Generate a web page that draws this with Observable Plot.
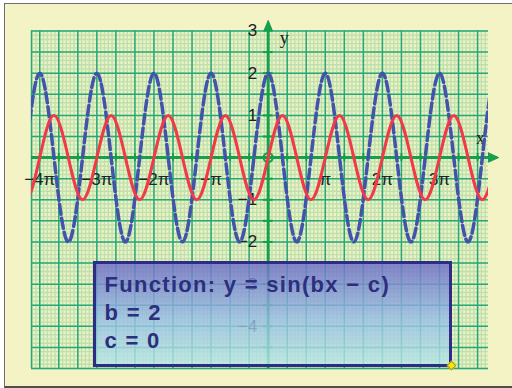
<!DOCTYPE html>
<html>
<head>
<meta charset="utf-8">
<script src="https://cdn.jsdelivr.net/npm/d3@7"></script>
<script src="https://cdn.jsdelivr.net/npm/@observablehq/plot@0.6"></script>
<style>
  html, body { margin: 0; padding: 0; background: #ffffff; }
  #wrap { position: relative; width: 512px; height: 388px; overflow: hidden; background: #ffffff; }
  #frame { position: absolute; left: 4px; top: 3px; width: 520px; height: 382px;
           background: #f3f3c5; border-top: 1.5px solid #6e6e6e; border-left: 1.5px solid #6e6e6e;
           border-bottom: 2px solid #4e4e4e; }
  #chart { position: absolute; left: 0; top: 0; }
  #box { position: absolute; left: 93px; top: 260.5px; width: 359px; height: 106px; box-sizing: border-box;
         border: 3.5px solid #2d2d88;
         background: linear-gradient(to bottom, rgba(112,112,200,0.84), rgba(150,190,232,0.8) 55%, rgba(182,230,232,0.8));
         padding: 7.5px 0 0 8.5px; color: #2e2e7e; font: bold 22px "Liberation Sans", Arial, sans-serif;
         line-height: 28px; letter-spacing: 1.3px; white-space: pre; }
  #diamond { position: absolute; left: 448px; top: 362px; width: 7px; height: 7px; background: #f7e21e;
             border: 1px solid #b49a00; transform: rotate(45deg); box-sizing: border-box; }
</style>
</head>
<body>
<div id="wrap">
  <div id="frame"></div>
  <div id="chart"></div>
  <div id="box"></div>
  <div id="diamond"></div>
</div>
<script>
// ---- data ----
// sample positions (in multiples of pi) and the two curves' values there
const sampleX = [-4.75,-4.5,-4.25,-4,-3.75,-3.5,-3.25,-3,-2.75,-2.5,-2.25,-2,-1.75,-1.5,-1.25,-1,-0.75,-0.5,-0.25,0,
                 0.25,0.5,0.75,1,1.25,1.5,1.75,2,2.25,2.5,2.75,3,3.25,3.5,3.75,4,4.25,4.5];
const redValues = [1,0,-1,0, 1,0,-1,0, 1,0,-1,0, 1,0,-1,0, 1,0,-1,0,
                   1,0,-1,0, 1,0,-1,0, 1,0,-1,0, 1,0,-1,0, 1,0];
const blueValues = [0,-2,0,2, 0,-2,0,2, 0,-2,0,2, 0,-2,0,2, 0,-2,0,2,
                    0,-2,0,2, 0,-2,0,2, 0,-2,0,2, 0,-2,0,2, 0,-2];
// tick labels
const xLabelMultiples = [-4,-3,-2,-1,1,2,3];
const xTickLabels = ["−4π","−3π","−2π","−π","π","2π","3π"];
const yLabelValues = [3,2,1,-1,-2,-3,-4];
const yTickLabels = ["3","2","1","−1","−2","−3","−4"];
const boxLines = ["Function: y = sin(bx − c)", "b = 2", "c = 0"];

// ---- layout ----
const PI = Math.PI;
const X_MIN = -13.02, X_MAX = 12.12, Y_MIN = -5, Y_MAX = 3;
const green = "#14a04c", major = "#27a87a", minor = "#bfe0ae", paper = "#edf2c3";

const redPts = sampleX.map((m, i) => ({x: m * PI, y: redValues[i]}));
const bluePts = sampleX.map((m, i) => ({x: m * PI, y: blueValues[i]}));

const kx = d3.range(Math.ceil(X_MIN / (PI / 15)), Math.floor(X_MAX / (PI / 15)) + 1);
const minorXs = kx.map(k => k * PI / 15);
const minorYs = d3.range(Y_MIN * 10, Y_MAX * 10 + 1).map(k => k / 10);
const majorXs = d3.range(Math.ceil(X_MIN / (PI / 3)), Math.floor(X_MAX / (PI / 3)) + 1).map(k => k * PI / 3);
const majorYs = d3.range(Y_MIN * 2, Y_MAX * 2 + 1).map(k => k / 2);
const xTicks = majorXs.filter(v => Math.abs(v) > 1e-9);
const yTicks = majorYs.filter(v => Math.abs(v) > 1e-9 && v > Y_MIN && v < Y_MAX);
const xLabels = xLabelMultiples.map((m, i) => ({x: m * PI, label: xTickLabels[i]}));
const yLabels = yLabelValues.map((v, i) => ({y: v, label: yTickLabels[i]}));
const xArrow = [{x: X_MAX, y: 0.11}, {x: X_MAX + 0.56, y: 0}, {x: X_MAX, y: -0.11}, {x: X_MAX, y: 0.11}];
const yArrow = [{x: -0.24, y: Y_MAX}, {x: 0, y: Y_MAX + 0.25}, {x: 0.24, y: Y_MAX}, {x: -0.24, y: Y_MAX}];

const chart = Plot.plot({
  width: 512, height: 388,
  marginLeft: 31, marginRight: 24, marginTop: 30.5, marginBottom: 20,
  x: {domain: [X_MIN, X_MAX], axis: null},
  y: {domain: [Y_MIN, Y_MAX], axis: null},
  style: {background: "transparent", fontFamily: "'Liberation Sans', Arial, sans-serif"},
  marks: [
    Plot.rect([{x1: X_MIN, x2: X_MAX, y1: Y_MIN, y2: Y_MAX}], {x1: "x1", x2: "x2", y1: "y1", y2: "y2", fill: paper}),
    Plot.ruleX(minorXs, {stroke: minor, strokeWidth: 1.4}),
    Plot.ruleY(minorYs, {stroke: minor, strokeWidth: 1.4}),
    Plot.ruleX(majorXs, {stroke: major, strokeWidth: 1.5}),
    Plot.ruleY(majorYs, {stroke: major, strokeWidth: 1.5}),
    Plot.ruleX([X_MIN], {stroke: major, strokeWidth: 1.5}),
    Plot.ruleY([0], {x1: X_MIN, x2: X_MAX, stroke: green, strokeWidth: 3}),
    Plot.ruleX([0], {y1: Y_MIN, y2: Y_MAX, stroke: green, strokeWidth: 3}),
    Plot.line(xArrow, {x: "x", y: "y", fill: green, stroke: green, strokeWidth: 1}),
    Plot.line(yArrow, {x: "x", y: "y", fill: green, stroke: green, strokeWidth: 1}),
    Plot.ruleX(xTicks, {y1: -0.09, y2: 0.09, stroke: green, strokeWidth: 2}),
    Plot.ruleY(yTicks, {x1: -0.27, x2: 0.27, stroke: green, strokeWidth: 2}),
    Plot.dot([{x: 0, y: 0}], {x: "x", y: "y", r: 4.5, stroke: green, strokeWidth: 2.2, fill: "none"}),
    Plot.text(xLabels, {x: "x", y: -0.52, text: "label", fontSize: 17, fill: "#222"}),
    Plot.text(yLabels, {x: 0, y: "y", text: "label", dx: -11, textAnchor: "end", fontSize: 17, fill: "#222"}),
    Plot.text(["y"], {x: 0, y: Y_MAX, dx: 16, dy: 7, text: d => d, fontSize: 18, fill: "#222", fontFamily: "'Liberation Serif', serif"}),
    Plot.text(["x"], {x: X_MAX, y: 0, dx: -8, dy: -19, text: d => d, fontSize: 18, fill: "#222", fontFamily: "'Liberation Serif', serif"}),
    Plot.line(bluePts, {x: "x", y: "y", curve: "natural", stroke: "#4253ab", strokeWidth: 3.5, strokeDasharray: "10,4", clip: true}),
    Plot.line(redPts, {x: "x", y: "y", curve: "natural", stroke: "#f03a48", strokeWidth: 3, clip: true})
  ]
});
document.getElementById("chart").appendChild(chart);
document.getElementById("box").textContent = boxLines.join("\n");
</script>
</body>
</html>
